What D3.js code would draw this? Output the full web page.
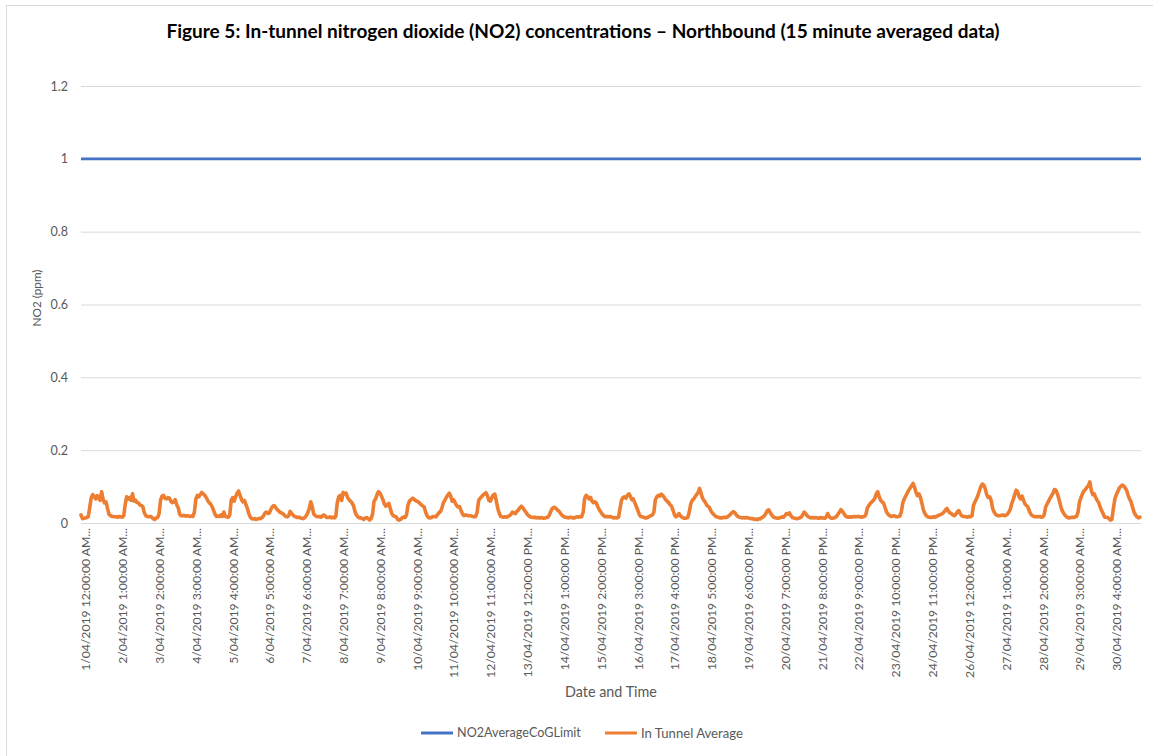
<!DOCTYPE html>
<html><head><meta charset="utf-8">
<script src="https://cdn.jsdelivr.net/npm/d3@7"></script>
<style>
body{margin:0;background:#fff;}
svg{display:block;font-family:Lato,"Open Sans",sans-serif;}
</style>
</head><body>
<svg id="chart" width="1153" height="756"></svg>
<script>
// ---------------- data ----------------
const titleText = "Figure 5: In-tunnel nitrogen dioxide (NO2) concentrations \u2013 Northbound (15 minute averaged data)";
const yAxisTitle = "NO2 (ppm)";
const xAxisTitle = "Date and Time";
const seriesNames = ["NO2AverageCoGLimit", "In Tunnel Average"];
const seriesColors = ["#4472C4", "#ED7D31"];
const yTicks = [0, 0.2, 0.4, 0.6, 0.8, 1, 1.2];
// hours since 1/04/2019 00:00 of each category label
const xTickHours = [0,25,50,75,100,125,150,175,200,225,250,275,300,325,350,375,400,425,450,475,500,525,550,575,600,625,650,675,700];
const xTickLabels = [
 "1/04/2019 12:00:00 AM...","2/04/2019 1:00:00 AM...","3/04/2019 2:00:00 AM...","4/04/2019 3:00:00 AM...",
 "5/04/2019 4:00:00 AM...","6/04/2019 5:00:00 AM...","7/04/2019 6:00:00 AM...","8/04/2019 7:00:00 AM...",
 "9/04/2019 8:00:00 AM...","10/04/2019 9:00:00 AM...","11/04/2019 10:00:00 AM...","12/04/2019 11:00:00 AM...",
 "13/04/2019 12:00:00 PM...","14/04/2019 1:00:00 PM...","15/04/2019 2:00:00 PM...","16/04/2019 3:00:00 PM...",
 "17/04/2019 4:00:00 PM...","18/04/2019 5:00:00 PM...","19/04/2019 6:00:00 PM...","20/04/2019 7:00:00 PM...",
 "21/04/2019 8:00:00 PM...","22/04/2019 9:00:00 PM...","23/04/2019 10:00:00 PM...","24/04/2019 11:00:00 PM...",
 "26/04/2019 12:00:00 AM...","27/04/2019 1:00:00 AM...","28/04/2019 2:00:00 AM...","29/04/2019 3:00:00 AM...",
 "30/04/2019 4:00:00 AM..."];
const seriesStartHour = 0, seriesEndHour = 719.75;
// NO2AverageCoGLimit (ppm), at start and end of the period
const limitSeries = [1, 1];
// In Tunnel Average, hourly readings in ppb (one line per day, 1/04 .. 30/04)
const inTunnelPpb = [
22,12,13,14,15,18,45,70,78,72,66,75,70,62,86,65,55,58,40,24,20,18,18,17,
17,16,18,17,16,20,50,72,66,70,62,80,60,63,56,55,50,48,45,28,20,18,17,18,
16,12,10,14,15,25,62,74,76,68,66,70,68,60,56,58,64,50,42,24,20,20,21,19,
20,19,18,19,18,30,66,76,72,78,84,80,76,70,62,56,52,45,35,24,18,19,18,22,
18,30,18,17,16,22,62,70,60,72,82,88,76,64,58,62,50,40,25,16,12,11,12,10,
11,13,12,15,20,28,30,26,28,38,45,48,44,38,34,30,28,26,22,18,17,20,32,26,
22,18,17,15,16,14,13,12,15,20,28,40,58,45,25,20,18,17,18,16,20,22,18,15,
15,17,14,16,14,18,55,72,76,62,84,80,82,70,64,60,55,48,32,22,17,14,14,12,
10,14,15,12,8,12,25,60,66,78,86,82,74,64,52,46,50,54,40,26,20,18,17,10,
8,10,14,16,15,22,48,60,64,68,66,62,60,58,54,50,47,44,30,20,15,14,15,18,
18,17,22,28,31,40,55,62,70,76,82,74,60,64,56,48,44,45,35,25,20,22,21,20,
20,19,18,17,18,30,62,68,72,77,80,83,75,62,60,70,77,79,60,40,27,18,17,16,
17,16,18,20,24,30,28,26,32,36,42,46,42,36,30,24,20,17,16,15,16,14,15,14,
14,15,13,14,15,16,22,32,40,43,42,38,34,30,24,20,17,16,15,14,16,15,14,14,
16,17,16,18,17,30,68,76,72,66,70,60,56,58,54,44,36,30,24,20,17,18,17,18,
17,15,14,15,14,16,40,62,70,72,68,76,80,74,64,66,56,46,36,24,18,17,16,14,
14,16,18,20,22,30,64,72,76,74,79,76,70,64,60,56,50,46,35,22,17,20,26,20,
16,14,13,14,15,30,52,62,66,72,78,84,95,82,68,62,56,48,46,40,31,26,22,18,
17,15,14,14,15,16,15,17,20,24,28,31,28,22,18,16,15,14,15,14,15,14,13,12,
12,10,11,9,12,11,14,16,20,26,34,36,28,22,17,15,14,13,14,15,17,16,20,26,
24,28,20,15,14,13,12,13,14,16,22,30,26,20,17,15,14,15,14,15,14,13,15,14,
14,13,16,26,18,14,13,14,15,18,24,30,37,32,26,20,17,16,17,16,17,18,17,18,
18,17,16,17,18,24,42,48,54,58,62,68,80,86,72,62,58,54,42,30,24,20,18,19,
20,18,17,18,19,30,55,66,74,82,90,96,102,109,98,84,75,80,70,54,36,26,20,17,
16,15,16,17,16,18,20,22,24,26,30,36,40,32,28,26,22,20,24,30,34,26,20,18,
18,17,16,18,17,20,48,58,66,76,88,100,107,104,94,78,70,72,62,40,30,24,21,20,
20,21,22,20,21,24,30,38,54,64,78,90,86,72,66,74,62,52,48,44,32,24,20,18,
17,18,17,18,16,17,22,44,52,60,68,75,82,92,90,80,66,50,36,28,22,18,15,14,
15,16,15,17,18,30,58,70,80,88,92,98,102,113,90,78,80,70,62,56,44,34,26,16,
16,15,12,8,10,40,66,78,86,96,100,104,102,96,90,76,66,58,44,30,22,17,14,16
];

// ---------------- drawing ----------------
const svg = d3.select("#chart");
const W = 1153, H = 756;
const plot = {left: 81, right: 1141, top: 86, bottom: 523};
const textGrey = "#595959";

svg.append("rect").attr("x",6.5).attr("y",5.5).attr("width",W+10).attr("height",H+10)
   .attr("fill","none").attr("stroke","#d9d9d9");

const x = d3.scaleLinear().domain([seriesStartHour, seriesEndHour]).range([plot.left, plot.right]);
const y = d3.scaleLinear().domain([0, 1.2]).range([plot.bottom, plot.top]);

function fit(sel, target){
  const w = sel.node().getComputedTextLength();
  const fs = parseFloat(sel.attr("font-size"));
  sel.attr("font-size", fs*target/w);
}

// y axis + gridlines
const yAxis = svg.append("g").attr("transform",`translate(${plot.left},0)`)
  .call(d3.axisLeft(y).tickValues(yTicks).tickSize(-(plot.right-plot.left)).tickPadding(13)
        .tickFormat(d3.format("~g")));
yAxis.select(".domain").remove();
yAxis.selectAll(".tick line").attr("stroke","#d9d9d9").attr("stroke-width",1);
yAxis.selectAll(".tick text").attr("fill",textGrey).attr("font-size",13).attr("font-family","Lato,'Open Sans',sans-serif");

// x axis labels
const xAxis = svg.append("g").attr("transform",`translate(0,${plot.bottom})`)
  .call(d3.axisBottom(x).tickValues(xTickHours).tickSize(0).tickFormat((d,i)=>xTickLabels[i]));
xAxis.select(".domain").remove();
const xt = xAxis.selectAll(".tick text")
  .attr("transform","rotate(-90)").attr("text-anchor","end")
  .attr("x",-5).attr("y",4.5).attr("dy","0.35em")
  .attr("fill",textGrey).attr("font-size",13).attr("font-family","Lato,'Open Sans',sans-serif");
{
  const first = d3.select(xt.nodes()[0]);
  const w = first.node().getComputedTextLength();
  xt.attr("font-size", 13*143/w);
}
{
  const t = d3.select(yAxis.selectAll(".tick text").nodes()[4]); // 0.8
  const w = t.node().getComputedTextLength();
  yAxis.selectAll(".tick text").attr("font-size", 13*17.5/w);
}

// series
const lineGen = d3.line().x(d=>x(d.h)).y(d=>y(d.v));
const limitData = limitSeries.map((v,i)=>({h: i===0 ? seriesStartHour : seriesEndHour, v}));
const tunnelData = inTunnelPpb.map((v,i)=>({h: seriesStartHour + i, v: v/1000}));

svg.append("path").datum(limitData).attr("d",lineGen)
  .attr("fill","none").attr("stroke",seriesColors[0]).attr("stroke-width",2.75);
svg.append("path").datum(tunnelData).attr("d",lineGen)
  .attr("fill","none").attr("stroke",seriesColors[1]).attr("stroke-width",3.6)
  .attr("stroke-linejoin","round").attr("stroke-linecap","round");

// titles
const title = svg.append("text").attr("x",583).attr("y",31).attr("dy","0.35em")
  .attr("text-anchor","middle").attr("font-weight","bold").attr("font-size",17)
  .attr("fill","#000").text(titleText);
fit(title, 834);

const yt = svg.append("text").attr("transform","translate(37,298) rotate(-90)")
  .attr("text-anchor","middle").attr("dy","0.35em").attr("font-size",13)
  .attr("fill",textGrey).text(yAxisTitle);
fit(yt, 57);

const xtTitle = svg.append("text").attr("x",611).attr("y",692).attr("dy","0.35em")
  .attr("text-anchor","middle").attr("font-size",15).attr("fill",textGrey).text(xAxisTitle);
fit(xtTitle, 92);

// legend
const legendItems = [
  {name: seriesNames[0], color: seriesColors[0], x: 421, w: 124},
  {name: seriesNames[1], color: seriesColors[1], x: 605, w: 102}
];
const lg = svg.append("g");
legendItems.forEach(it=>{
  lg.append("line").attr("x1",it.x).attr("x2",it.x+32).attr("y1",733).attr("y2",733)
    .attr("stroke",it.color).attr("stroke-width",3);
  const t = lg.append("text").attr("x",it.x+36).attr("y",733).attr("dy","0.35em")
    .attr("font-size",13).attr("fill",textGrey).text(it.name);
  fit(t, it.w);
});
</script>
</body></html>
